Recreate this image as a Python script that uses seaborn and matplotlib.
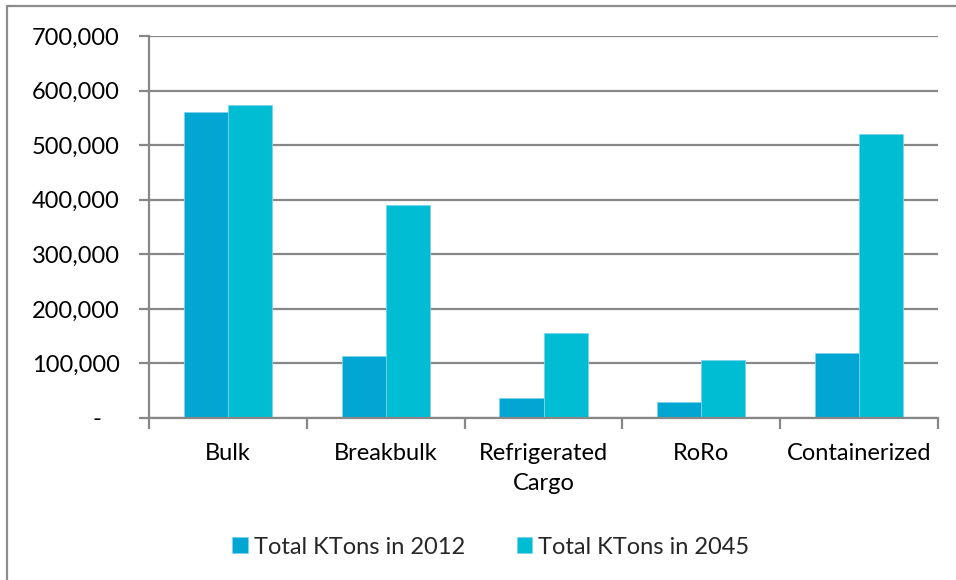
import matplotlib
matplotlib.use("Agg")
import matplotlib.pyplot as plt
from matplotlib.lines import Line2D
from matplotlib.ticker import FuncFormatter
import seaborn as sns
import pandas as pd

categories = ["Bulk", "Breakbulk", "Refrigerated\nCargo", "RoRo", "Containerized"]
series_names = ["Total KTons in 2012", "Total KTons in 2045"]
ktons_2012 = [560000, 113000, 37000, 30000, 120000]
ktons_2045 = [573000, 390000, 156000, 106000, 520000]
y_ticks = [0, 100000, 200000, 300000, 400000, 500000, 600000, 700000]

df = pd.DataFrame({
    "category": categories * 2,
    "series": [series_names[0]] * len(categories) + [series_names[1]] * len(categories),
    "value": ktons_2012 + ktons_2045,
})

sns.set_theme(style="white")
plt.rcParams["font.family"] = ["Lato", "DejaVu Sans"]

grid_color = "#878787"
palette = {series_names[0]: "#02A6D3", series_names[1]: "#00BDD3"}
fs = 17

fig = plt.figure(figsize=(9.56, 5.8), dpi=100)
ax = fig.add_axes([149 / 956, 1 - 418 / 580, (938 - 149) / 956, (418 - 36) / 580])

sns.barplot(data=df, x="category", y="value", hue="series", order=categories,
            hue_order=series_names, palette=palette, width=0.56, saturation=1,
            edgecolor="#7fd3ea", linewidth=0.6, ax=ax)

ax.set_ylim(0, 700000)
ax.set_xlim(-0.5, len(categories) - 0.5)
ax.set_yticks(y_ticks)
ax.yaxis.set_major_formatter(
    FuncFormatter(lambda v, p: "-   " if v == 0 else f"{int(v):,}"))
ax.yaxis.grid(True, color=grid_color, linewidth=1.6)
ax.set_axisbelow(True)
ax.set_xlabel("")
ax.set_ylabel("")

for side in ["top", "right"]:
    ax.spines[side].set_visible(False)
for side in ["left", "bottom"]:
    ax.spines[side].set_color(grid_color)
    ax.spines[side].set_linewidth(1.6)

# y ticks point outward on the left; x ticks mark the category boundaries
ax.tick_params(axis="y", which="major", left=True, direction="out", length=7,
               width=1.6, color=grid_color, labelsize=fs, pad=14, labelcolor="black")
ax.set_xticks([i + 0.5 for i in range(-1, len(categories))], minor=True)
ax.tick_params(axis="x", which="minor", bottom=True, direction="out", length=8,
               width=1.6, color=grid_color)
ax.tick_params(axis="x", which="major", bottom=False, labelsize=fs, pad=12,
               labelcolor="black")
for lbl in ax.get_xticklabels():
    lbl.set_linespacing(1.55)
    lbl.set_verticalalignment("top")

leg = ax.legend(loc="upper center", bbox_to_anchor=(0.433, -0.255), ncol=2,
                frameon=False, fontsize=fs, handlelength=0.65, handleheight=0.65,
                handletextpad=0.25, columnspacing=2.2)

# chart area frame (top and left edges)
fig.add_artist(Line2D([7 / 956, 7 / 956], [0, 1 - 6 / 580], transform=fig.transFigure,
                      color="#8c8c8c", linewidth=1.6))
fig.add_artist(Line2D([7 / 956, 1], [1 - 6 / 580, 1 - 6 / 580], transform=fig.transFigure,
                      color="#8c8c8c", linewidth=1.6))

fig.savefig("out.png", dpi=100, facecolor="white")
